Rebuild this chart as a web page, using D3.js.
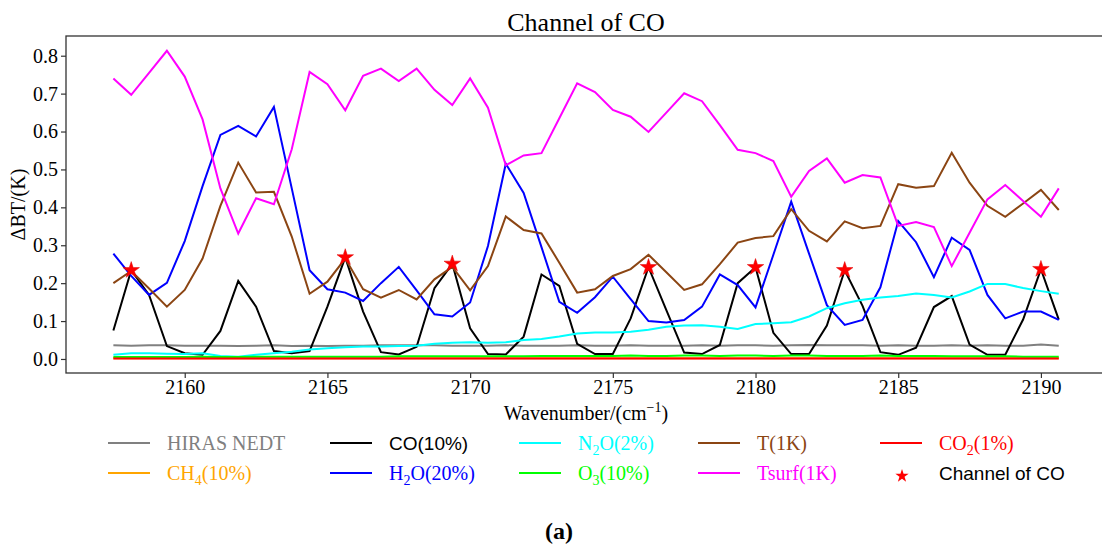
<!DOCTYPE html>
<html>
<head>
<meta charset="utf-8">
<script src="https://cdn.jsdelivr.net/npm/d3@7"></script>
<style>
  body { margin: 0; background: #fff; }
  svg { display: block; }
  text { font-family: "Liberation Serif", "Times New Roman", serif; }
</style>
</head>
<body>
<svg id="chart" width="1102" height="547"></svg>
<script>
// Channel centres (cm-1)
const wavenumber = [
  2157.5, 2158.125, 2158.75, 2159.375, 2160, 2160.625, 2161.25, 2161.875, 2162.5, 2163.125,
  2163.75, 2164.375, 2165, 2165.625, 2166.25, 2166.875, 2167.5, 2168.125, 2168.75, 2169.375,
  2170, 2170.625, 2171.25, 2171.875, 2172.5, 2173.125, 2173.75, 2174.375, 2175, 2175.625,
  2176.25, 2176.875, 2177.5, 2178.125, 2178.75, 2179.375, 2180, 2180.625, 2181.25, 2181.875,
  2182.5, 2183.125, 2183.75, 2184.375, 2185, 2185.625, 2186.25, 2186.875, 2187.5, 2188.125,
  2188.75, 2189.375, 2190, 2190.625
];

// Sensitivities, delta BT (K)
const hirasNedt = [
  0.036, 0.035, 0.036, 0.036, 0.035, 0.035, 0.035, 0.034, 0.035, 0.036,
  0.034, 0.035, 0.034, 0.035, 0.035, 0.036, 0.036, 0.036, 0.036, 0.035,
  0.035, 0.035, 0.036, 0.035, 0.035, 0.035, 0.036, 0.035, 0.035, 0.036,
  0.035, 0.035, 0.035, 0.036, 0.035, 0.036, 0.036, 0.035, 0.036, 0.037,
  0.036, 0.036, 0.036, 0.035, 0.036, 0.035, 0.035, 0.036, 0.035, 0.036,
  0.035, 0.035, 0.038, 0.035
];
const ch4 = [
  0.002, 0.002, 0.002, 0.002, 0.002, 0.002, 0.002, 0.002, 0.002, 0.002,
  0.002, 0.002, 0.002, 0.002, 0.002, 0.002, 0.002, 0.002, 0.002, 0.002,
  0.002, 0.002, 0.002, 0.002, 0.002, 0.002, 0.002, 0.002, 0.002, 0.002,
  0.002, 0.002, 0.002, 0.002, 0.002, 0.002, 0.002, 0.002, 0.002, 0.002,
  0.002, 0.002, 0.002, 0.002, 0.002, 0.002, 0.002, 0.002, 0.002, 0.002,
  0.002, 0.002, 0.002, 0.002
];
const co = [
  0.075, 0.234, 0.169, 0.034, 0.015, 0.011, 0.074, 0.206, 0.138, 0.021,
  0.015, 0.021, 0.138, 0.268, 0.125, 0.018, 0.012, 0.032, 0.187, 0.251,
  0.081, 0.013, 0.012, 0.059, 0.223, 0.193, 0.040, 0.013, 0.013, 0.107,
  0.242, 0.129, 0.017, 0.013, 0.037, 0.200, 0.242, 0.069, 0.013, 0.013,
  0.088, 0.234, 0.140, 0.018, 0.011, 0.030, 0.137, 0.166, 0.038, 0.011,
  0.011, 0.104, 0.237, 0.104
];
const h2o = [
  0.278, 0.219, 0.169, 0.201, 0.311, 0.456, 0.591, 0.615, 0.587, 0.665,
  0.450, 0.234, 0.184, 0.175, 0.153, 0.200, 0.243, 0.181, 0.118, 0.112,
  0.149, 0.298, 0.515, 0.438, 0.295, 0.151, 0.122, 0.163, 0.217, 0.158,
  0.100, 0.096, 0.103, 0.138, 0.223, 0.195, 0.136, 0.275, 0.415, 0.278,
  0.142, 0.090, 0.103, 0.189, 0.364, 0.308, 0.216, 0.320, 0.288, 0.169,
  0.107, 0.125, 0.125, 0.103
];
const n2o = [
  0.011, 0.015, 0.015, 0.014, 0.013, 0.015, 0.008, 0.006, 0.011, 0.015,
  0.019, 0.025, 0.028, 0.031, 0.033, 0.033, 0.034, 0.035, 0.040, 0.043,
  0.044, 0.043, 0.044, 0.050, 0.053, 0.059, 0.067, 0.070, 0.070, 0.072,
  0.077, 0.085, 0.088, 0.089, 0.085, 0.079, 0.092, 0.094, 0.097, 0.112,
  0.134, 0.147, 0.156, 0.162, 0.166, 0.173, 0.169, 0.162, 0.178, 0.198,
  0.198, 0.187, 0.179, 0.172
];
const o3 = [
  0.005, 0.005, 0.005, 0.005, 0.005, 0.006, 0.005, 0.005, 0.006, 0.006,
  0.006, 0.006, 0.006, 0.006, 0.006, 0.006, 0.007, 0.007, 0.007, 0.007,
  0.007, 0.007, 0.007, 0.007, 0.008, 0.008, 0.008, 0.008, 0.008, 0.009,
  0.008, 0.008, 0.009, 0.009, 0.008, 0.009, 0.009, 0.008, 0.009, 0.009,
  0.008, 0.008, 0.008, 0.009, 0.008, 0.008, 0.008, 0.007, 0.007, 0.007,
  0.007, 0.006, 0.006, 0.006
];
const temp = [
  0.200, 0.232, 0.186, 0.138, 0.182, 0.265, 0.404, 0.518, 0.439, 0.441,
  0.323, 0.172, 0.204, 0.265, 0.184, 0.162, 0.182, 0.157, 0.210, 0.243,
  0.181, 0.245, 0.376, 0.340, 0.331, 0.254, 0.175, 0.184, 0.219, 0.237,
  0.275, 0.229, 0.182, 0.197, 0.250, 0.307, 0.319, 0.324, 0.395, 0.338,
  0.310, 0.363, 0.345, 0.351, 0.461, 0.452, 0.456, 0.544, 0.465, 0.404,
  0.375, 0.410, 0.446, 0.393
];
const tsurf = [
  0.740, 0.697, 0.755, 0.813, 0.745, 0.632, 0.450, 0.331, 0.424, 0.408,
  0.553, 0.757, 0.725, 0.656, 0.747, 0.766, 0.733, 0.766, 0.710, 0.670,
  0.740, 0.663, 0.511, 0.537, 0.543, 0.635, 0.727, 0.704, 0.657, 0.639,
  0.599, 0.650, 0.701, 0.680, 0.617, 0.552, 0.543, 0.522, 0.428, 0.496,
  0.529, 0.465, 0.485, 0.479, 0.351, 0.361, 0.348, 0.245, 0.333, 0.421,
  0.459, 0.417, 0.375, 0.450
];
const co2 = [
  0.001, 0.001, 0.001, 0.001, 0.001, 0.001, 0.001, 0.001, 0.001, 0.001,
  0.001, 0.001, 0.001, 0.001, 0.001, 0.001, 0.001, 0.001, 0.001, 0.001,
  0.001, 0.001, 0.001, 0.001, 0.001, 0.001, 0.001, 0.001, 0.001, 0.001,
  0.001, 0.001, 0.001, 0.001, 0.001, 0.001, 0.001, 0.001, 0.001, 0.001,
  0.001, 0.001, 0.001, 0.001, 0.001, 0.001, 0.001, 0.001, 0.001, 0.001,
  0.001, 0.001, 0.001, 0.001
];

// Indices of the selected CO channels (starred)
const channelIdx = [1, 13, 19, 30, 36, 41, 52];

const xTicks = [2160, 2165, 2170, 2175, 2180, 2185, 2190];
const yTicks = [0, 0.1, 0.2, 0.3, 0.4, 0.5, 0.6, 0.7, 0.8];

// Draw order follows the legend's column order; "_n" marks a subscript
const series = [
  { label: 'HIRAS NEDT', values: hirasNedt, colour: '#808080', row: 0, col: 0 },
  { label: 'CH_4(10%)', values: ch4, colour: '#ffa500', row: 1, col: 0 },
  { label: 'CO(10%)', values: co, colour: '#000000', row: 0, col: 1, sans: true, textColour: '#000' },
  { label: 'H_2O(20%)', values: h2o, colour: '#0000ff', row: 1, col: 1 },
  { label: 'N_2O(2%)', values: n2o, colour: '#00ffff', row: 0, col: 2 },
  { label: 'O_3(10%)', values: o3, colour: '#00ff00', row: 1, col: 2 },
  { label: 'T(1K)', values: temp, colour: '#8b4513', row: 0, col: 3 },
  { label: 'Tsurf(1K)', values: tsurf, colour: '#ff00ff', row: 1, col: 3 },
  { label: 'CO_2(1%)', values: co2, colour: '#ff0000', row: 0, col: 4 },
];

const margins = { left: 66, top: 36, right: 1106, bottom: 373 };
const legendCols = [108, 330, 519, 698, 880];
const legendRows = [443, 473];
const serif = '"Liberation Serif", "Times New Roman", serif';
const sans = '"Liberation Sans", Arial, sans-serif';

const svg = d3.select('#chart');

// Scales
const x = d3.scaleLinear()
  .domain([2155.84, 2192.28])
  .range([margins.left, margins.right]);

const y = d3.scaleLinear()
  .domain([-0.037, 0.852])
  .range([margins.bottom, margins.top]);

const line = d3.line()
  .x((d, i) => x(wavenumber[i]))
  .y(d => y(d));

// Title
svg.append('text')
  .attr('x', (margins.left + margins.right) / 2)
  .attr('y', 31)
  .attr('text-anchor', 'middle')
  .style('font-size', '26px')
  .text('Channel of CO');

// Axes
function styleAxis(g) {
  g.attr('font-family', serif).attr('font-size', 20);
  g.select('.domain').remove();
  g.selectAll('line').attr('stroke', '#333').attr('stroke-width', 1.2);
  g.selectAll('text')
    .attr('fill', '#000')
    .style('font-size', '20px')
    .style('font-family', serif);
}

const xAxis = d3.axisBottom(x)
  .tickValues(xTicks)
  .tickFormat(d3.format('d'))
  .tickSize(5)
  .tickPadding(2);

svg.append('g')
  .attr('class', 'x-axis')
  .attr('transform', `translate(0, ${margins.bottom})`)
  .call(xAxis)
  .call(styleAxis);

const yAxis = d3.axisLeft(y)
  .tickValues(yTicks)
  .tickFormat(d3.format('.1f'))
  .tickSize(5)
  .tickPadding(3);

svg.append('g')
  .attr('class', 'y-axis')
  .attr('transform', `translate(${margins.left}, 0)`)
  .call(yAxis)
  .call(styleAxis);

// Axis labels
const xLabel = svg.append('text')
  .attr('x', (margins.left + margins.right) / 2)
  .attr('y', 420)
  .attr('text-anchor', 'middle')
  .style('font-size', '20px');
xLabel.append('tspan').text('Wavenumber/(cm');
xLabel.append('tspan').attr('dy', -8).style('font-size', '14px').text('\u22121');
xLabel.append('tspan').attr('dy', 8).text(')');

svg.append('text')
  .attr('transform', `translate(25, ${(margins.top + margins.bottom) / 2}) rotate(-90)`)
  .attr('text-anchor', 'middle')
  .style('font-size', '20px')
  .text('\u0394BT/(K)');

// Lines
const dataContainer = svg.append('g').attr('class', 'data-container');

dataContainer.selectAll('path.data')
  .data(series)
  .enter()
  .append('path')
  .attr('class', 'data')
  .attr('d', d => line(d.values))
  .style('fill', 'none')
  .style('stroke', d => d.colour)
  .style('stroke-width', '2px')
  .style('stroke-linejoin', 'miter');

// CO channel stars
const star = d3.symbol().type(d3.symbolStar);

dataContainer.selectAll('path.channel')
  .data(channelIdx)
  .enter()
  .append('path')
  .attr('class', 'channel')
  .attr('d', star.size(85)())
  .attr('transform', i => `translate(${x(wavenumber[i])}, ${y(co[i])})`)
  .style('fill', '#ff0000')
  .style('stroke', '#e00000')
  .style('stroke-width', 0.5);

// Frame (right side falls just outside the picture)
svg.append('rect')
  .attr('x', margins.left)
  .attr('y', margins.top)
  .attr('width', margins.right - margins.left)
  .attr('height', margins.bottom - margins.top)
  .style('fill', 'none')
  .style('stroke', '#333')
  .style('stroke-width', 1.3);

// Legend
function writeLabel(text, label) {
  let shift = 0;
  label.split(/(_\d)/).filter(s => s.length).forEach(part => {
    if (part[0] === '_') {
      text.append('tspan').attr('dy', 5).style('font-size', '14px').text(part.slice(1));
      shift = -5;
    } else {
      text.append('tspan').attr('dy', shift).text(part);
      shift = 0;
    }
  });
}

const legend = svg.append('g').attr('class', 'legend-container');

series.forEach(s => {
  const lx = legendCols[s.col];
  const ly = legendRows[s.row];
  const item = legend.append('g').attr('class', 'legend-item');
  item.append('line')
    .attr('x1', lx).attr('x2', lx + 42)
    .attr('y1', ly).attr('y2', ly)
    .style('stroke', s.colour)
    .style('stroke-width', '2px');
  const t = item.append('text')
    .attr('x', lx + 59)
    .attr('y', ly + 7)
    .attr('fill', s.textColour || s.colour)
    .style('font-size', s.sans ? '19px' : '20px')
    .style('font-family', s.sans ? sans : null);
  writeLabel(t, s.label);
});

const starItem = legend.append('g').attr('class', 'legend-item');
starItem.append('path')
  .attr('d', star.size(55)())
  .attr('transform', `translate(${legendCols[4] + 22}, ${legendRows[1] + 3})`)
  .style('fill', '#ff0000');
starItem.append('text')
  .attr('x', legendCols[4] + 59)
  .attr('y', legendRows[1] + 7)
  .style('font-size', '19px')
  .style('font-family', sans)
  .text('Channel of CO');

// Panel tag
svg.append('text')
  .attr('x', 559)
  .attr('y', 539)
  .attr('text-anchor', 'middle')
  .style('font-size', '24px')
  .style('font-weight', 'bold')
  .text('(a)');
</script>
</body>
</html>
